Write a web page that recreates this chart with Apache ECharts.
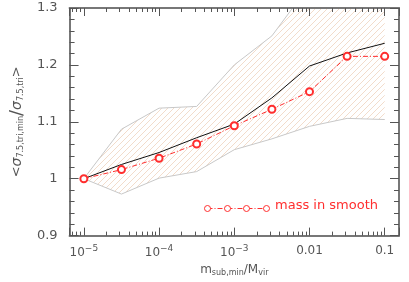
<!DOCTYPE html>
<html><head><meta charset="utf-8">
<script src="https://cdn.jsdelivr.net/npm/echarts@6/dist/echarts.min.js"></script>
<style>html,body{margin:0;padding:0;background:#fff}#c{width:409px;height:282px}</style>
</head><body><div id="c"></div>
<script>
const xVals = [1e-5, 3.1623e-5, 1e-4, 3.1623e-4, 1e-3, 3.1623e-3, 1e-2, 3.1623e-2, 1e-1];
const meanAll = [1.0, 1.025, 1.046, 1.072, 1.096, 1.142, 1.198, 1.221, 1.238];
const smoothVals = [1.0, 1.016, 1.036, 1.061, 1.093, 1.122, 1.153, 1.215, 1.215];
const upperVals = [1.0, 1.087, 1.124, 1.127, 1.2, 1.251, 1.34, 1.37, 1.38];
const lowerVals = [1.0, 0.973, 1.001, 1.0125, 1.051, 1.070, 1.092, 1.106, 1.104];
const majorTicks = [1e-5, 1e-4, 1e-3, 1e-2, 1e-1];
const majorLabels = ['10{s|−5}', '10{s|−4}', '10{s|−3}', '0.01', '0.1'];
const yTicks = [0.9, 1.0, 1.1, 1.2, 1.3];
const legendName = 'mass in smooth';

const xMin = Math.pow(10, -5.19), xMax = Math.pow(10, -0.81);

// hatch pattern
const pc = document.createElement('canvas');
pc.width = 6; pc.height = 6;
const pctx = pc.getContext('2d');
pctx.strokeStyle = '#f2dccb';
pctx.lineWidth = 1;
pctx.beginPath();
pctx.moveTo(-1, 7); pctx.lineTo(7, -1);
pctx.moveTo(-1, 1); pctx.lineTo(1, -1);
pctx.moveTo(5, 7); pctx.lineTo(7, 5);
pctx.stroke();

const frame = '#777';
const tickC = '#555';
const red = '#ff2e2e';
const font = 'DejaVu Sans';

function xAx(pos, labels) {
  return {
    type: 'log', logBase: 10, min: xMin, max: xMax, position: pos, z: 10,
    axisLine: { show: true, onZero: false, lineStyle: { color: frame, width: 2 } },
    axisTick: { show: true, inside: true, length: 8, lineStyle: { color: tickC, width: 1 } },
    minorTick: { show: true, splitNumber: 9, length: 4, lineStyle: { color: tickC, width: 1 } },
    splitLine: { show: false },
    axisLabel: labels ? {
      show: true, margin: 9, color: '#555', fontFamily: font, fontSize: 12, showMinLabel: false, showMaxLabel: false,
      formatter: v => { const i = majorTicks.findIndex(t => Math.abs(t - v) / t < 1e-6); return i >= 0 ? majorLabels[i] : ''; },
      rich: { s: { fontSize: 9, verticalAlign: 'top', padding: [0, 0, 8, 0], color: '#555', fontFamily: font } }
    } : { show: false },
    name: labels ? '{a|m}{s|sub,min}{a|/M}{s|vir}' : '',
    nameLocation: 'middle', nameGap: 27,
    nameTextStyle: { rich: {
      a: { fontSize: 12, color: '#555', fontFamily: font },
      s: { fontSize: 8, color: '#555', fontFamily: font, padding: [6, 0, 0, 0] }
    } }
  };
}
function yAx(pos, labels) {
  return {
    type: 'value', min: 0.9, max: 1.3, interval: 0.1, position: pos, z: 10,
    axisLine: { show: true, onZero: false, lineStyle: { color: frame, width: 2 } },
    axisTick: { show: true, inside: true, length: 9, lineStyle: { color: tickC } },
    minorTick: { show: true, splitNumber: 5, length: 5, lineStyle: { color: tickC } },
    splitLine: { show: false },
    axisLabel: labels ? { show: true, margin: 12, color: '#555', fontFamily: font, fontSize: 13,
      formatter: v => { const t = yTicks.find(t => Math.abs(t - v) < 1e-6); return t === undefined ? '' : String(+t.toFixed(1)); } } : { show: false },
    name: labels ? '{a|<}{g|σ}{s|7.5,tri,min}{b|/}{g|σ}{s|7.5,tri}{a|>}' : '',
    nameLocation: 'middle', nameGap: 34, nameRotate: 90,
    nameTextStyle: { rich: {
      a: { fontSize: 13, color: '#555', fontFamily: font },
      g: { fontSize: 14, color: '#555', fontFamily: font, fontStyle: 'italic' },
      b: { fontSize: 18, color: '#555', fontFamily: font },
      s: { fontSize: 8, color: '#555', fontFamily: font, padding: [7, 0, 0, 0] }
    } }
  };
}

const chart = echarts.init(document.getElementById('c'), null, { renderer: 'canvas' });
const pairs = arr => xVals.map((x, i) => [x, arr[i]]);
chart.setOption({
  animation: false,
  grid: { left: 54, right: 10, top: 8, bottom: 44 },
  xAxis: [xAx('bottom', true), xAx('top', false)],
  yAxis: [yAx('left', true), yAx('right', false)],
  series: [
    { type: 'custom', xAxisIndex: 0, yAxisIndex: 0, clip: true, z: 1,
      data: pairs(upperVals),
      renderItem: (params, api) => {
        if (params.dataIndex !== 0) return null;
        const pts = xVals.map((x, i) => api.coord([x, upperVals[i]]))
          .concat(xVals.map((x, i) => api.coord([x, lowerVals[i]])).reverse());
        const cs = params.coordSys;
        return { type: 'polygon', shape: { points: pts },
          style: { fill: { image: pc, repeat: 'repeat' }, stroke: null },
          clipPath: { type: 'rect', shape: { x: cs.x, y: cs.y, width: cs.width, height: cs.height } } };
      } },
    { type: 'line', xAxisIndex: 0, yAxisIndex: 0, data: pairs(upperVals), showSymbol: false, symbol: 'none',
      lineStyle: { color: '#c8c8c8', width: 1 }, z: 2 },
    { type: 'line', xAxisIndex: 0, yAxisIndex: 0, data: pairs(lowerVals), showSymbol: false, symbol: 'none',
      lineStyle: { color: '#c8c8c8', width: 1 }, z: 2 },
    { type: 'line', xAxisIndex: 0, yAxisIndex: 0, data: pairs(meanAll), showSymbol: false, symbol: 'none',
      lineStyle: { color: '#111', width: 1 }, z: 3 },
    { type: 'line', name: legendName, xAxisIndex: 0, yAxisIndex: 0, data: pairs(smoothVals), symbol: 'emptyCircle', symbolSize: 7,
      itemStyle: { color: red, borderColor: red, borderWidth: 1 },
      lineStyle: { color: red, width: 1, type: [5, 2, 1, 2] }, z: 4 }
  ],
  graphic: [
    { type: 'group', left: 204, top: 205, children: [
      { type: 'line', shape: { x1: 3, y1: 3.5, x2: 62, y2: 3.5 }, style: { stroke: red, lineWidth: 1, lineDash: [5, 2, 1, 2] } },
      { type: 'circle', shape: { cx: 3, cy: 3.5, r: 3 }, style: { stroke: red, fill: '#fff', lineWidth: 1 } },
      { type: 'circle', shape: { cx: 23, cy: 3.5, r: 3 }, style: { stroke: red, fill: '#fff', lineWidth: 1 } },
      { type: 'circle', shape: { cx: 42, cy: 3.5, r: 3 }, style: { stroke: red, fill: '#fff', lineWidth: 1 } },
      { type: 'circle', shape: { cx: 62, cy: 3.5, r: 3 }, style: { stroke: red, fill: '#fff', lineWidth: 1 } }
    ] },
    { type: 'text', left: 275, top: 199, style: { text: legendName, fill: red, font: '13px "DejaVu Sans"' } }
  ]
});
</script></body></html>
